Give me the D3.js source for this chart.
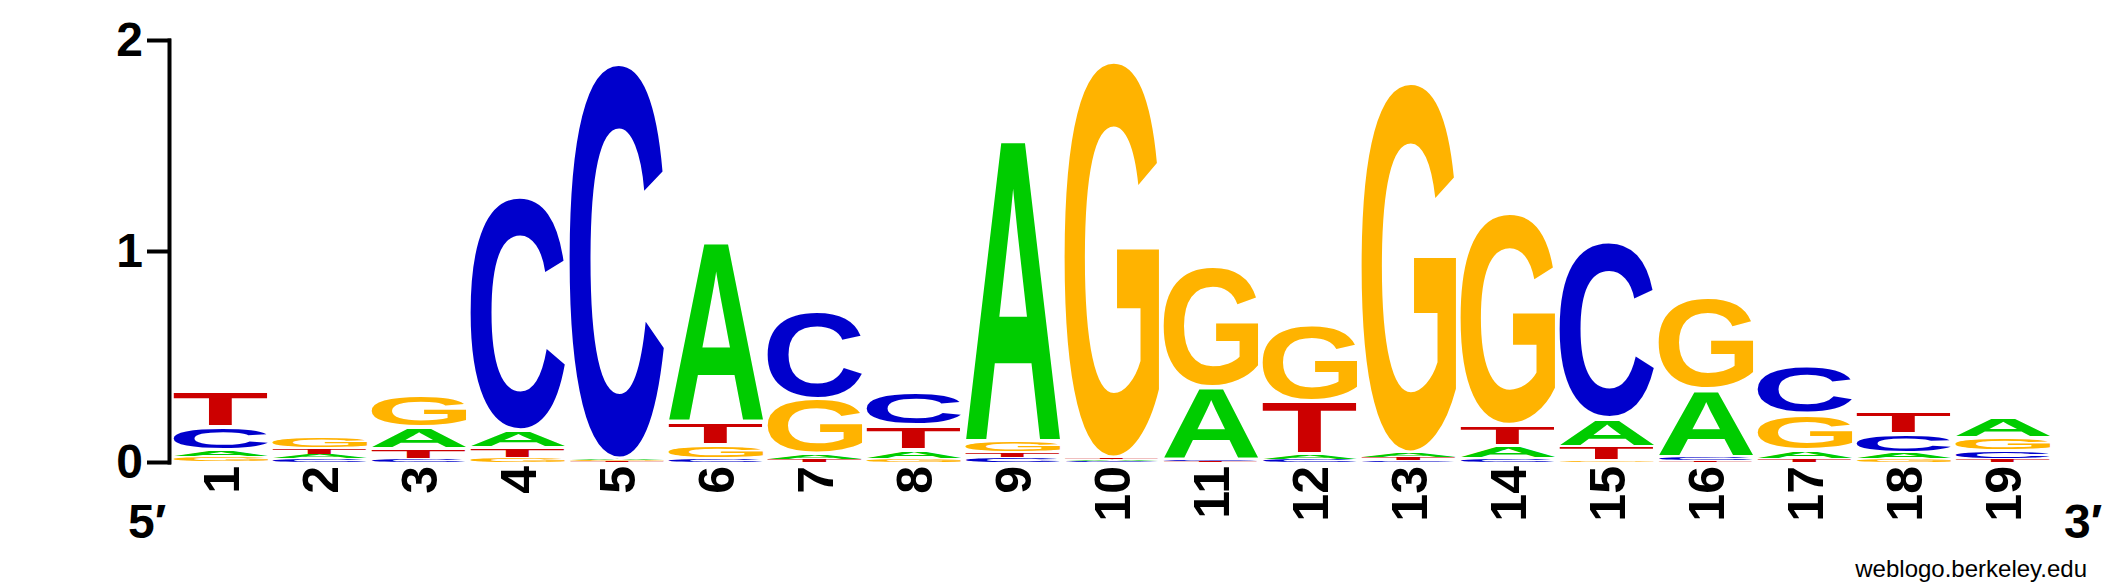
<!DOCTYPE html>
<html>
<head>
<meta charset="utf-8">
<script src="https://cdn.jsdelivr.net/npm/d3@7"></script>
<style>
  body { margin: 0; background: #fff; }
  svg { display: block; }
</style>
</head>
<body>
<svg id="logo"></svg>
<script>
// sequence logo, bits per base at each position
const positions = [1, 2, 3, 4, 5, 6, 7, 8, 9, 10, 11, 12, 13, 14, 15, 16, 17, 18, 19];
const bitsA = [0.030, 0.022, 0.105, 0.085, 0.007, 0.860, 0.025, 0.040, 1.445, 0.007, 0.345, 0.025, 0.025, 0.060, 0.135, 0.323, 0.040, 0.028, 0.100];
const bitsC = [0.110, 0.015, 0.016, 1.110, 1.875, 0.015, 0.420, 0.165, 0.020, 0.004, 0.007, 0.012, 0.008, 0.016, 0.840, 0.012, 0.230, 0.090, 0.040];
const bitsG = [0.024, 0.055, 0.155, 0.020, 0.005, 0.065, 0.260, 0.015, 0.055, 1.880, 0.575, 0.360, 1.756, 1.007, 0.008, 0.440, 0.170, 0.014, 0.060];
const bitsT = [0.170, 0.028, 0.045, 0.045, 0.004, 0.110, 0.013, 0.120, 0.025, 0.010, 0.005, 0.250, 0.012, 0.100, 0.065, 0.010, 0.017, 0.110, 0.015];
const yTicks = [0, 1, 2];
const baseColor = {A: "#00cc00", C: "#0000cc", G: "#ffb300", T: "#cc0000"};

const width = 2125, height = 588;
const FONT = "'Liberation Sans', Arial, Helvetica, sans-serif";

function drawLogo() {
  const svg = d3.select("#logo")
    .attr("width", width)
    .attr("height", height);

  const x = d3.scaleBand()
    .domain(positions)
    .range([171.5, 2052.5])
    .paddingInner(0.04)
    .paddingOuter(0.02);

  const y = d3.scaleLinear()
    .domain([0, 2])
    .range([462, 40]);

  // tight outline box of each letter, measured once on a canvas
  const ctx = document.createElement("canvas").getContext("2d");
  ctx.font = "bold 100px " + FONT;
  const glyph = {};
  ["A", "C", "G", "T"].forEach(ch => {
    const m = ctx.measureText(ch);
    glyph[ch] = {
      x0: -m.actualBoundingBoxLeft,
      x1: m.actualBoundingBoxRight,
      y0: -m.actualBoundingBoxAscent,
      y1: m.actualBoundingBoxDescent
    };
  });

  // stack the letters: smallest at the bottom, largest on top
  const stacks = positions.map((p, i) => {
    const col = [
      {base: "A", bits: bitsA[i]},
      {base: "C", bits: bitsC[i]},
      {base: "G", bits: bitsG[i]},
      {base: "T", bits: bitsT[i]}
    ].sort((a, b) => a.bits - b.bits);
    let sum = 0;
    col.forEach(d => { d.pos = p; d.lo = sum; sum += d.bits; d.hi = sum; });
    return col;
  });
  const letters = stacks.flat();

  svg.append("g")
    .selectAll("text")
    .data(letters)
    .join("text")
    .attr("font-family", FONT)
    .attr("font-weight", "bold")
    .attr("font-size", 100)
    .attr("fill", d => baseColor[d.base])
    .attr("transform", d => {
      const g = glyph[d.base];
      const top = y(d.hi), bot = y(d.lo);
      const pad = Math.min(2, (bot - top) * 0.1);
      const h = bot - top - 2 * pad;
      const sx = x.bandwidth() / (g.x1 - g.x0);
      const sy = h / (g.y1 - g.y0);
      return `translate(${x(d.pos)},${top + pad}) scale(${sx},${sy}) translate(${-g.x0},${-g.y0})`;
    })
    .text(d => d.base);

  // y axis
  const yAxis = svg.append("g")
    .attr("transform", "translate(169,0)")
    .call(d3.axisLeft(y).tickValues(yTicks).tickFormat(d3.format("d")).tickSize(20).tickSizeOuter(0).tickPadding(6));
  yAxis.select(".domain").attr("stroke-width", 4).attr("stroke-linecap", "square");
  yAxis.selectAll(".tick line").attr("stroke-width", 4).attr("stroke-linecap", "square");
  yAxis.selectAll(".tick text")
    .attr("font-family", FONT)
    .attr("font-weight", "bold")
    .attr("font-size", 48)
    .attr("fill", "#000");

  // position numbers, turned upright
  svg.append("g")
    .selectAll("text")
    .data(positions)
    .join("text")
    .attr("transform", d => `translate(${x(d) + x.bandwidth() / 2},466) rotate(-90)`)
    .attr("text-anchor", "end")
    .attr("dy", "0.36em")
    .attr("font-family", FONT)
    .attr("font-weight", "bold")
    .attr("font-size", 50)
    .text(d => d);

  svg.append("text")
    .attr("x", 128).attr("y", 538)
    .attr("font-family", FONT).attr("font-weight", "bold").attr("font-size", 48)
    .text("5\u2032");

  svg.append("text")
    .attr("x", 2064).attr("y", 538)
    .attr("font-family", FONT).attr("font-weight", "bold").attr("font-size", 48)
    .text("3\u2032");

  svg.append("text")
    .attr("x", 2087).attr("y", 577)
    .attr("text-anchor", "end")
    .attr("font-family", FONT).attr("font-size", 24)
    .text("weblogo.berkeley.edu");
}

document.fonts.load("bold 100px 'Liberation Sans'").then(drawLogo, drawLogo);
</script>
</body>
</html>
